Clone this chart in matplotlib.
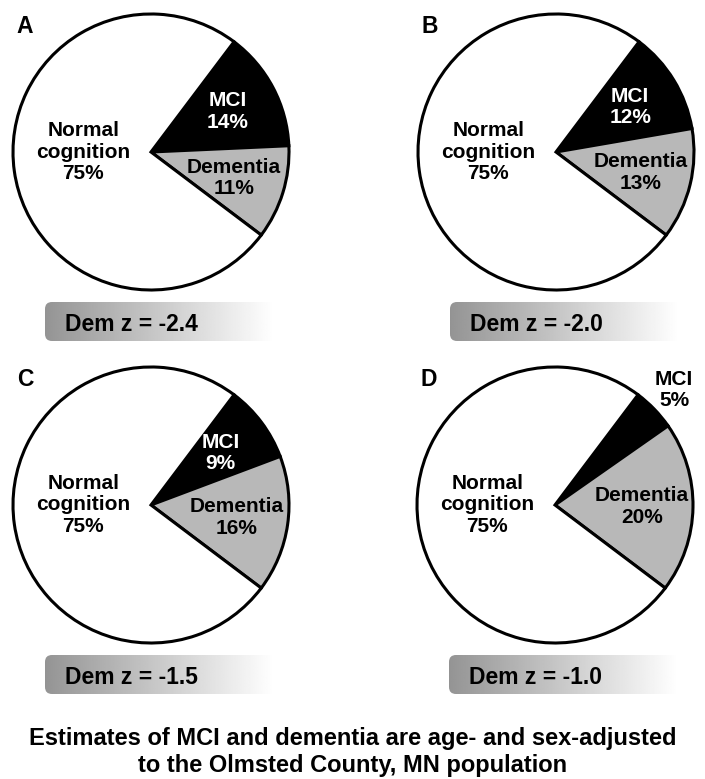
import numpy as np
import matplotlib
matplotlib.use("Agg")
import matplotlib.pyplot as plt
from matplotlib.patches import FancyBboxPatch

plt.rcParams['font.family'] = ['Liberation Sans', 'DejaVu Sans']

# ---- data ----
panel_letters = ['A', 'B', 'C', 'D']
categories = ['MCI', 'Dementia', 'Normal\ncognition']
mci_pct = [14, 12, 9, 5]
dementia_pct = [11, 13, 16, 20]
normal_pct = [75, 75, 75, 75]
dem_z = ['-2.4', '-2.0', '-1.5', '-1.0']
caption = ("Estimates of MCI and dementia are age- and sex-adjusted\n"
           "to the Olmsted County, MN population")

# ---- layout (pixels) ----
W, H = 705, 779
centers = [(151, 152), (556, 152), (151, 505), (555, 505)]
R = 138
slice_colors = ['black', '#b8b8b8', 'white']
label_colors = ['white', 'black']

fig = plt.figure(figsize=(W / 100, H / 100), dpi=100)
bg = fig.add_axes([0, 0, 1, 1])
bg.axis('off')

for i, (cx, cy) in enumerate(centers):
    ax = fig.add_axes([(cx - R) / W, 1 - (cy + R) / H, 2 * R / W, 2 * R / H])
    vals = [mci_pct[i], dementia_pct[i], normal_pct[i]]
    wedges, _ = ax.pie(vals, colors=slice_colors, startangle=53, counterclock=False,
                       wedgeprops=dict(edgecolor='black', linewidth=2.2, clip_on=False))
    ax.set_xlim(-1, 1)
    ax.set_ylim(-1, 1)
    ax.set_aspect('equal')
    ax.axis('off')

    for j, w in enumerate(wedges[:2]):
        mid = np.deg2rad((w.theta1 + w.theta2) / 2)
        small = vals[j] < 8
        d = 1.2 if small else 0.63
        col = 'black' if small else label_colors[j]
        ax.text(d * np.cos(mid), d * np.sin(mid), f"{categories[j]}\n{vals[j]}%",
                ha='center', va='center', color=col, fontsize=15, fontweight='bold',
                linespacing=1.15, clip_on=False)
    ax.text(-0.49, 0, f"{categories[2]}\n{vals[2]}%", ha='center', va='center',
            fontsize=15, fontweight='bold', linespacing=1.15)

    # panel letter
    bg.text(cx - 126, cy - 126, panel_letters[i], ha='center', va='center',
            fontsize=16.5, fontweight='bold')

    # gradient box with z score
    x0, y0, bw, bh = cx - 106, cy + 150, 254, 39
    t = np.linspace(0, 1, 256)
    grad = np.clip(0.58 + 0.42 * t / 0.9, 0, 1)
    img = bg.imshow(grad[None, :], cmap='gray', vmin=0, vmax=1, aspect='auto',
                    extent=(x0, x0 + bw, y0 + bh, y0), interpolation='bilinear')
    box = FancyBboxPatch((x0, y0), bw, bh, boxstyle='round,pad=0,rounding_size=7',
                         facecolor='none', edgecolor='none')
    bg.add_patch(box)
    img.set_clip_path(box)
    bg.text(x0 + 20, y0 + 22, f"Dem z = {dem_z[i]}", ha='left', va='center',
            fontsize=16.5, fontweight='bold')

bg.text(W / 2, 727, caption, ha='center', va='top', fontsize=17, fontweight='bold',
        linespacing=1.2)

bg.set_xlim(0, W)
bg.set_ylim(H, 0)

fig.savefig('out.png', dpi=100, facecolor='white')
